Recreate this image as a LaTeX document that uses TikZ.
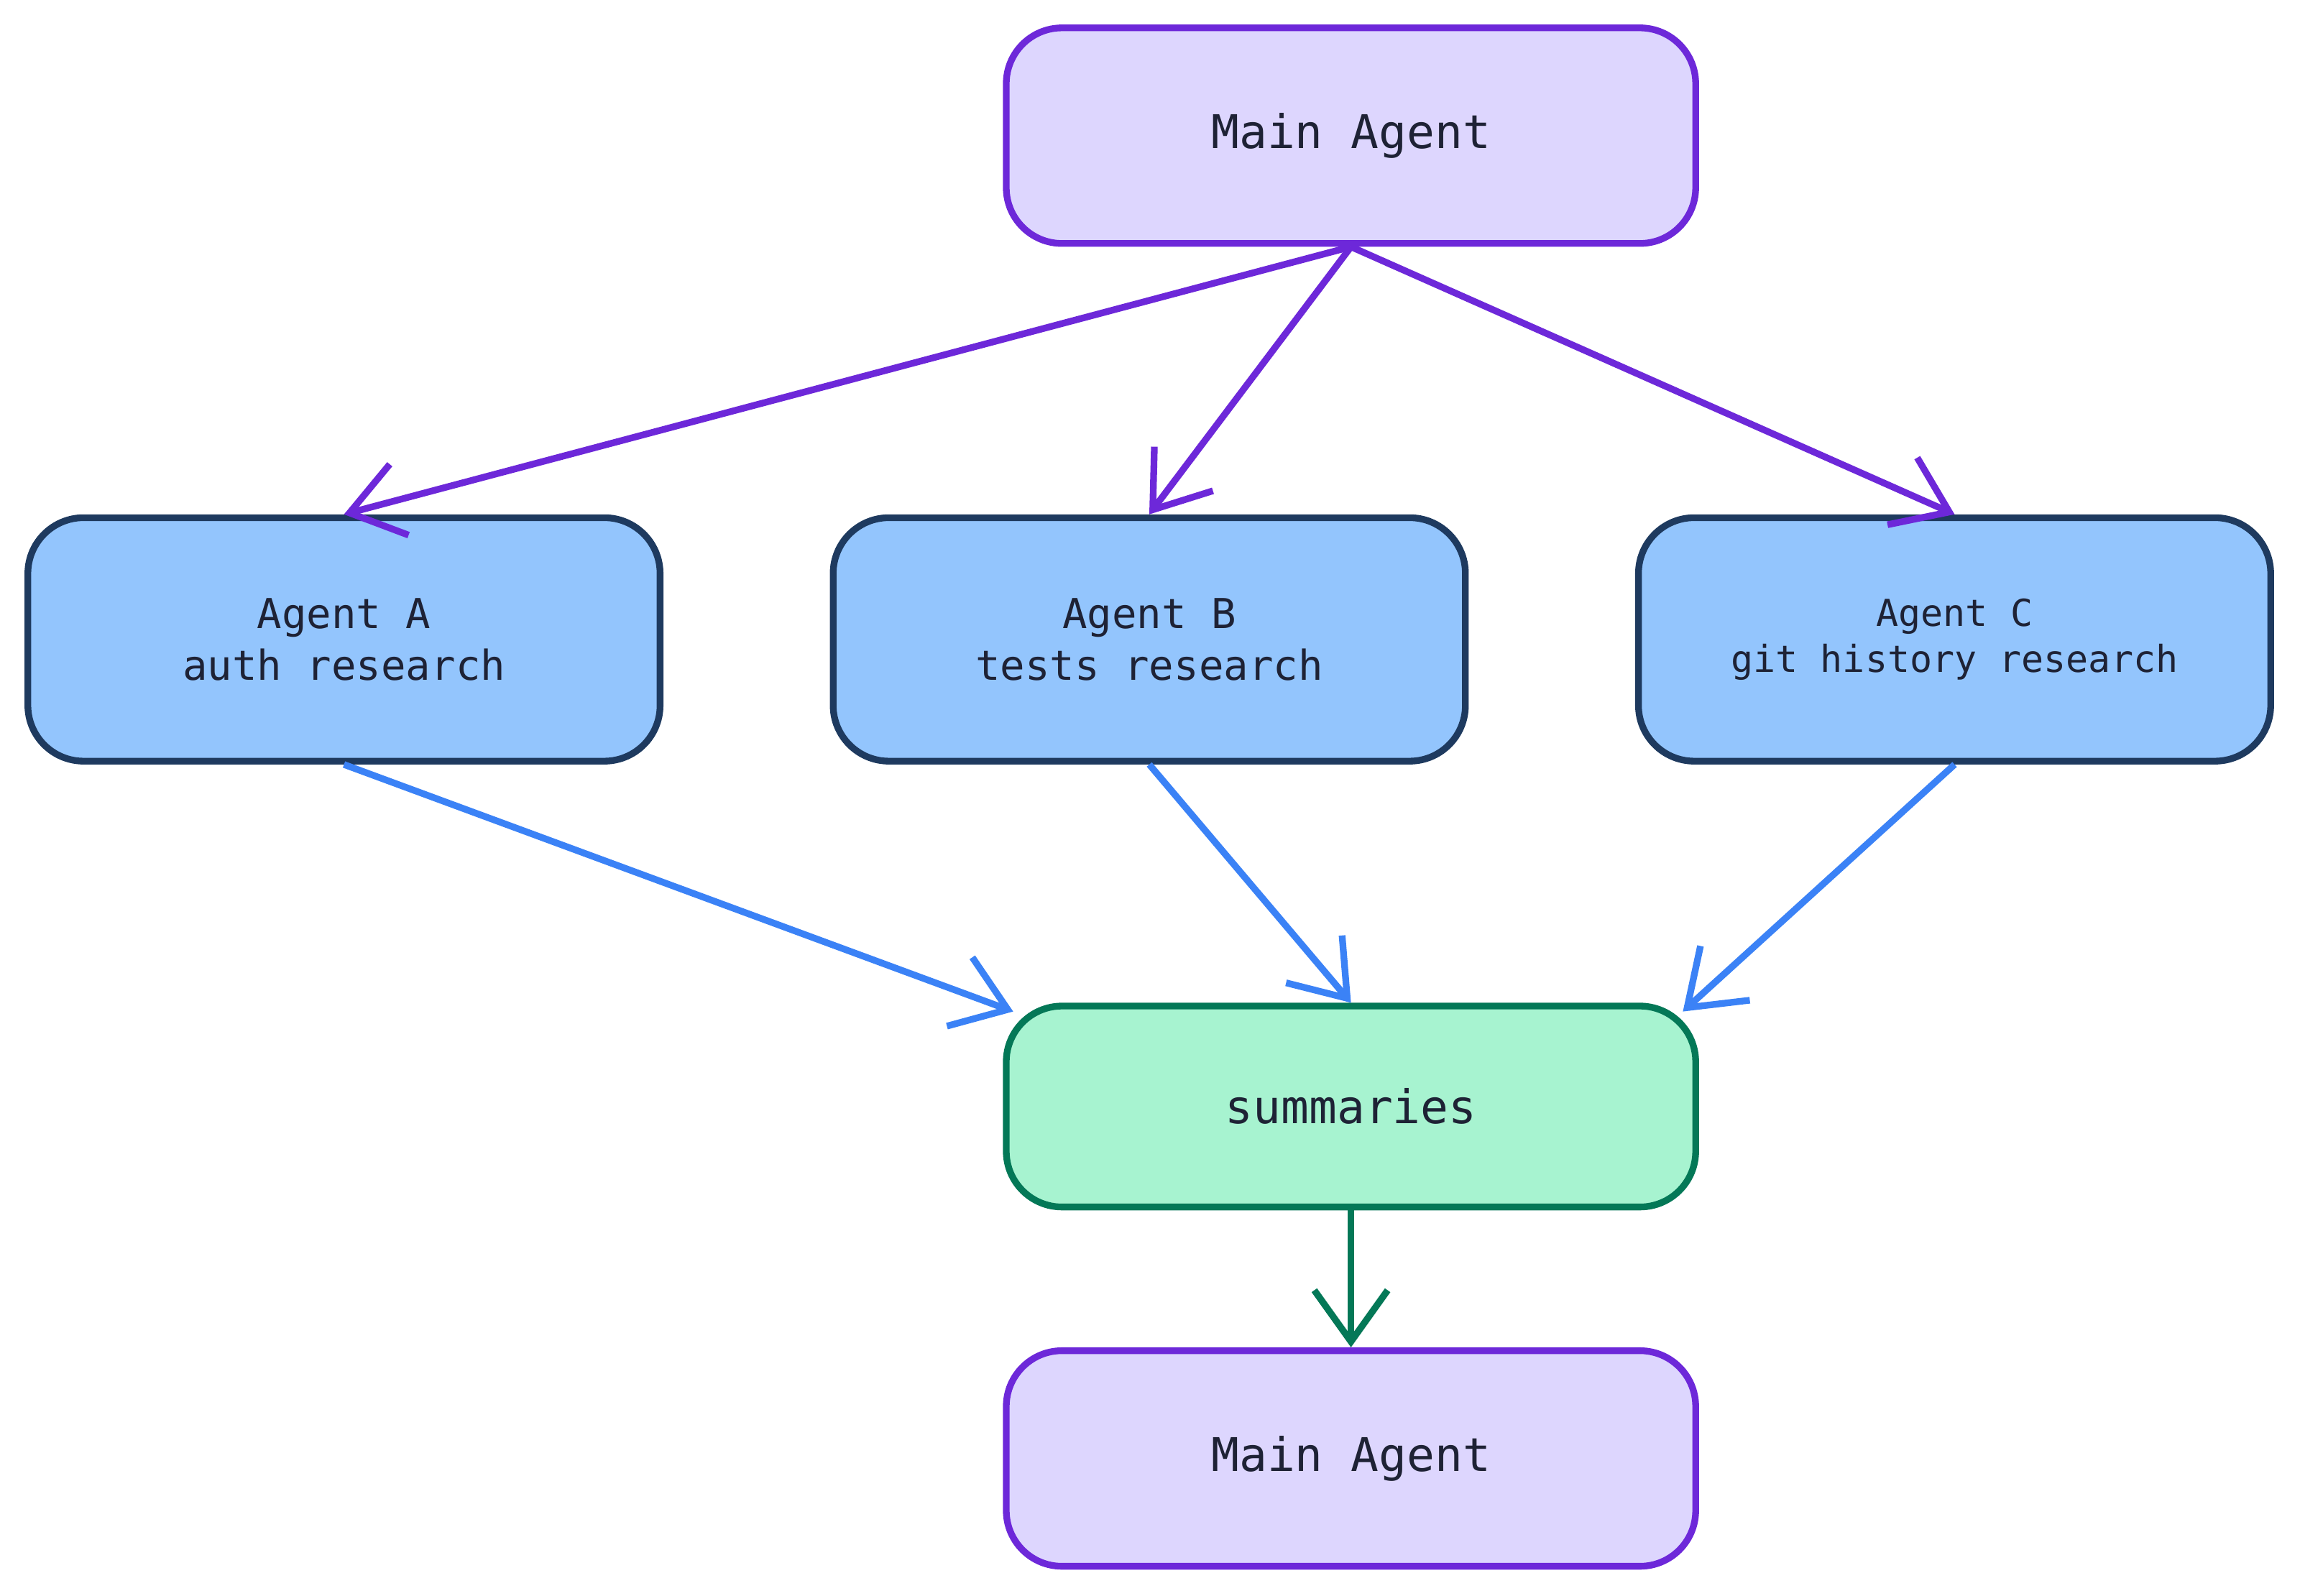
\documentclass[tikz,border=0pt]{standalone}
\usepackage{fontspec}
\setmonofont{DejaVu Sans Mono}
\usetikzlibrary{arrows.meta}
\definecolor{mainfill}{HTML}{DDD6FE}
\definecolor{mainline}{HTML}{6D28D9}
\definecolor{agentfill}{HTML}{93C5FD}
\definecolor{agentline}{HTML}{1E3A5F}
\definecolor{agentarrow}{HTML}{3B82F6}
\definecolor{sumfill}{HTML}{A7F3D0}
\definecolor{sumline}{HTML}{047857}
\definecolor{textcol}{HTML}{1E2235}
\tikzset{
  box/.style={draw,line width=1.3pt,rounded corners=0.38cm,align=center,
    text=textcol,font=\ttfamily,inner sep=0pt},
  mainbox/.style={box,fill=mainfill,draw=mainline,minimum width=4.7cm,minimum height=1.47cm,font=\ttfamily\fontsize{9}{11}\selectfont},
  agentbox/.style={box,fill=agentfill,draw=agentline,minimum width=4.31cm,minimum height=1.66cm,font=\ttfamily\fontsize{8}{10}\selectfont},
  sumbox/.style={box,fill=sumfill,draw=sumline,minimum width=4.7cm,minimum height=1.37cm,font=\ttfamily\fontsize{9}{11}\selectfont},
  flow/.style={line width=1.3pt,-{Straight Barb[length=0.35cm,width=0.5cm,line width=1.3pt]}}
}
\begin{document}
\begin{tikzpicture}
  % Boundary
  \path[use as bounding box] (0,0) rectangle (15.68,-10.88);
  % Nodes
  \node[mainbox] (top) at (9.21,-0.925) {Main Agent};
  \node[agentbox] (a) at (2.345,-4.36) {Agent A\\auth research};
  \node[agentbox] (b) at (7.835,-4.36) {Agent B\\tests research};
  \node[agentbox,font=\ttfamily\fontsize{7.2}{9}\selectfont] (c) at (13.325,-4.36) {Agent C\\git history research};
  \node[sumbox] (sum) at (9.21,-7.545) {summaries};
  \node[mainbox] (bottom) at (9.21,-9.945) {Main Agent};
  % Edges
  \draw[flow,mainline] (top.south) -- (a.north);
  \draw[flow,mainline] (top.south) -- (b.north);
  \draw[flow,mainline] (top.south) -- (c.north);
  \draw[flow,agentarrow] (a.south) -- ([xshift=0.07cm,yshift=-0.06cm]sum.north west);
  \draw[flow,agentarrow] (b.south) -- (sum.north);
  \draw[flow,agentarrow] (c.south) -- ([xshift=-0.11cm,yshift=-0.06cm]sum.north east);
  \draw[flow,sumline] (sum.south) -- (bottom.north);
\end{tikzpicture}
\end{document}
